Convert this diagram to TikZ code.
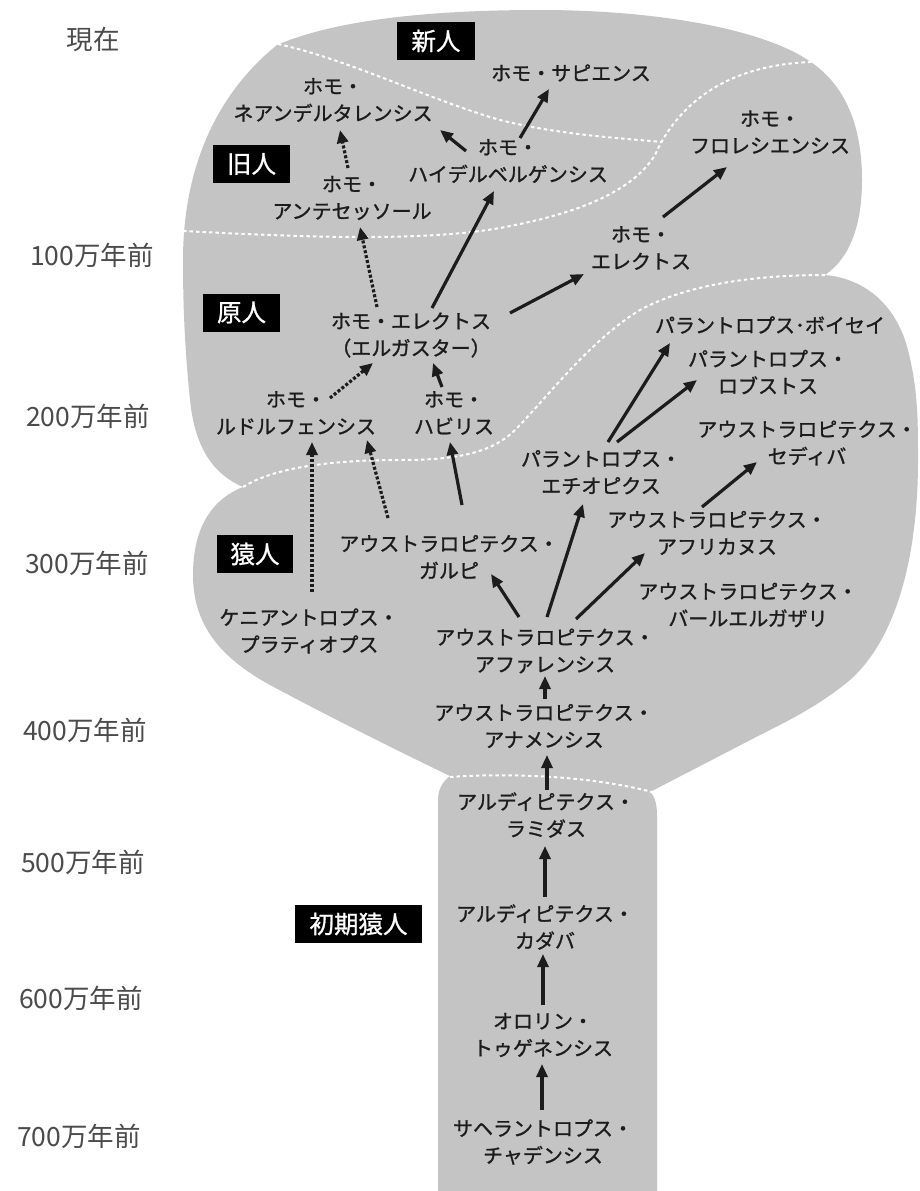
\documentclass[tikz,border=0pt]{standalone}
\usepackage{fontspec}
\setmainfont{Noto Sans CJK JP}
\newfontfamily\spfont[FakeBold=1.2]{Noto Sans CJK JP}
\newfontfamily\erafont[FakeBold=1.0]{Noto Sans CJK JP}
\usetikzlibrary{arrows.meta,calc}
\definecolor{shapegray}{RGB}{196,196,196}
\definecolor{ink}{RGB}{28,28,28}
\definecolor{timegray}{RGB}{75,75,75}
\tikzset{
 sp/.style={font=\spfont\fontsize{20}{27}\selectfont, text=ink, align=center, inner sep=0pt},
 era/.style={fill=black, text=white, font=\erafont\fontsize{24.5}{24}\selectfont, minimum height=38pt, inner sep=0pt},
 tm/.style={font=\fontsize{26.5}{30}\selectfont, text=timegray, inner sep=0pt},
 arr/.style={line width=3.2pt, draw=ink, -{Triangle[length=13pt,width=11pt]}},
 darr/.style={arr, dash pattern=on 3pt off 2pt},
 bound/.style={white, line width=2pt, dash pattern=on 3.5pt off 3pt},
}
\begin{document}
\begin{tikzpicture}[x=1pt,y=-1pt]
\useasboundingbox (0,0) rectangle (919,1191);
% main grey shape
\fill[shapegray] (277,45)
 .. controls (340,18) and (440,10) .. (540,10)
 .. controls (660,10) and (770,30) .. (815,65)
 .. controls (848,90) and (862,130) .. (862,180)
 .. controls (862,225) and (850,258) .. (825,275)
 .. controls (860,278) and (895,300) .. (908,350)
 .. controls (918,390) and (918,420) .. (918,460)
 .. controls (918,560) and (895,640) .. (850,680)
 .. controls (820,705) and (790,720) .. (760,735)
 -- (650,792)
 .. controls (655,796) and (657,805) .. (657,815)
 -- (657,1191) -- (438,1191) -- (438,800)
 .. controls (438,790) and (442,782) .. (450,776)
 .. controls (400,752) and (320,712) .. (270,685)
 .. controls (215,655) and (193,620) .. (193,575)
 .. controls (193,530) and (210,500) .. (243,487)
 .. controls (215,475) and (195,450) .. (190,400)
 .. controls (185,350) and (183,310) .. (183,260)
 .. controls (183,170) and (215,95) .. (277,45) -- cycle;
% boundaries
\draw[bound] (278,44) .. controls (350,60) and (430,100) .. (500,120)
 .. controls (560,135) and (620,138) .. (662,142);
\draw[bound] (183,231) .. controls (300,237) and (420,242) .. (500,228)
 .. controls (570,215) and (630,195) .. (655,155)
 .. controls (675,110) and (720,65) .. (812,62);
\draw[bound] (243,487) .. controls (270,470) and (320,460) .. (400,460)
 .. controls (450,460) and (490,455) .. (515,430)
 .. controls (545,400) and (590,340) .. (640,310)
 .. controls (690,283) and (760,275) .. (825,275);
\draw[bound] (450,777) .. controls (520,772) and (600,778) .. (652,792);
% time labels
\node[tm] (t0) at (93,40) {現在};
\node[tm] (t1) at (92,255) {100万年前};
\node[tm] (t2) at (88,416) {200万年前};
\node[tm] (t3) at (87,563) {300万年前};
\node[tm] (t4) at (85,730) {400万年前};
\node[tm] (t5) at (83,862) {500万年前};
\node[tm] (t6) at (81,998) {600万年前};
\node[tm] (t7) at (79,1136) {700万年前};
% era labels
\node[era, minimum width=78pt] (e1) at (436,41) {新人};
\node[era, minimum width=77pt] (e2) at (251.5,164) {旧人};
\node[era, minimum width=77pt] (e3) at (241.5,312.5) {原人};
\node[era, minimum width=76pt] (e4) at (255,554) {猿人};
\node[era, minimum width=127pt] (e5) at (358.5,924) {初期猿人};
% species
\node[sp] (sap) at (571,73) {ホモ・サピエンス};
\node[sp] (nea) at (333,100) {ホモ・\\ネアンデルタレンシス};
\node[sp] (hei) at (508,161) {ホモ・\\ハイデルベルゲンシス};
\node[sp] (flo) at (770,132) {ホモ・\\フロレシエンシス};
\node[sp] (ant) at (352,198) {ホモ・\\アンテセッソール};
\node[sp] (ere) at (641,248) {ホモ・\\エレクトス};
\node[sp] (erg) at (411,335) {ホモ・エレクトス\\（エルガスター）};
\node[sp] (rud) at (296,413) {ホモ・\\ルドルフェンシス};
\node[sp] (hab) at (454,413) {ホモ・\\ハビリス};
\node[sp] (boi) at (770,325) {パラントロプス･ボイセイ};
\node[sp] (rob) at (768,372) {パラントロプス・\\ロブストス};
\node[sp] (sed) at (807,443) {アウストラロピテクス・\\セディバ};
\node[sp] (eth) at (601,472) {パラントロプス・\\エチオピクス};
\node[sp] (afr) at (717,533) {アウストラロピテクス・\\アフリカヌス};
\node[sp] (bah) at (748,605) {アウストラロピテクス・\\バールエルガザリ};
\node[sp] (gar) at (449,557) {アウストラロピテクス・\\ガルピ};
\node[sp] (ken) at (309,631) {ケニアントロプス・\\プラティオプス};
\node[sp] (afa) at (545,651) {アウストラロピテクス・\\アファレンシス};
\node[sp] (ana) at (544,726) {アウストラロピテクス・\\アナメンシス};
\node[sp] (ram) at (546,815) {アルディピテクス・\\ラミダス};
\node[sp] (kad) at (545,927) {アルディピテクス・\\カダバ};
\node[sp] (oro) at (543,1035) {オロリン・\\トゥゲネンシス};
\node[sp] (sah) at (543,1142) {サヘラントロプス・\\チャデンシス};
% solid arrows
\draw[arr] ($(hei)+(12,-23)$) -- ($(sap)+(-22,16)$);
\draw[arr] ($(hei)+(-42,-10)$) -- ($(nea)+(107,30)$);
\draw[arr] ($(erg)+(21,-27)$) -- ($(hei)+(-14,30)$);
\draw[arr] ($(erg)+(99,-22)$) -- ($(ere)+(-57,26)$);
\draw[arr] ($(ere)+(22,-31)$) -- ($(flo)+(-43,35)$);
\draw[arr] ($(hab)+(-12,-26)$) -- ($(erg)+(22,28)$);
\draw[arr] ($(gar)+(13,-52)$) -- ($(hab)+(-4,29)$);
\draw[arr] ($(afa)+(-26,-34)$) -- ($(gar)+(42,17)$);
\draw[arr] ($(afa)+(2,-34)$) -- ($(eth)+(-18,32)$);
\draw[arr] ($(afa)+(31,-32)$) -- ($(afr)+(-72,20)$);
\draw[arr] ($(afr)+(-15,-26)$) -- ($(sed)+(-50,19)$);
\draw[arr] ($(eth)+(7,-30)$) -- ($(boi)+(-100,18)$);
\draw[arr] ($(eth)+(16,-30)$) -- ($(rob)+(-71,8)$);
\draw[arr] ($(ana)+(1,-27)$) -- ($(afa)+(0,25)$);
\draw[arr] ($(ram)+(1,-25)$) -- ($(ana)+(3,29)$);
\draw[arr] ($(kad)+(0,-30)$) -- ($(ram)+(-1,31)$);
\draw[arr] ($(oro)+(0,-30)$) -- ($(kad)+(-2,27)$);
\draw[arr] ($(sah)+(-1,-32)$) -- ($(oro)+(-1,29)$);
% dotted arrows
\draw[darr] ($(ant)+(-4,-30)$) -- ($(nea)+(7,30)$);
\draw[darr] ($(erg)+(-34,-28)$) -- ($(ant)+(8,29)$);
\draw[darr] ($(rud)+(34,-15)$) -- ($(erg)+(-38,28)$);
\draw[darr] ($(ken)+(3,-39)$) -- ($(rud)+(16,29)$);
\draw[darr] ($(gar)+(-61,-39)$) -- ($(rud)+(71,27)$);
\end{tikzpicture}
\end{document}
